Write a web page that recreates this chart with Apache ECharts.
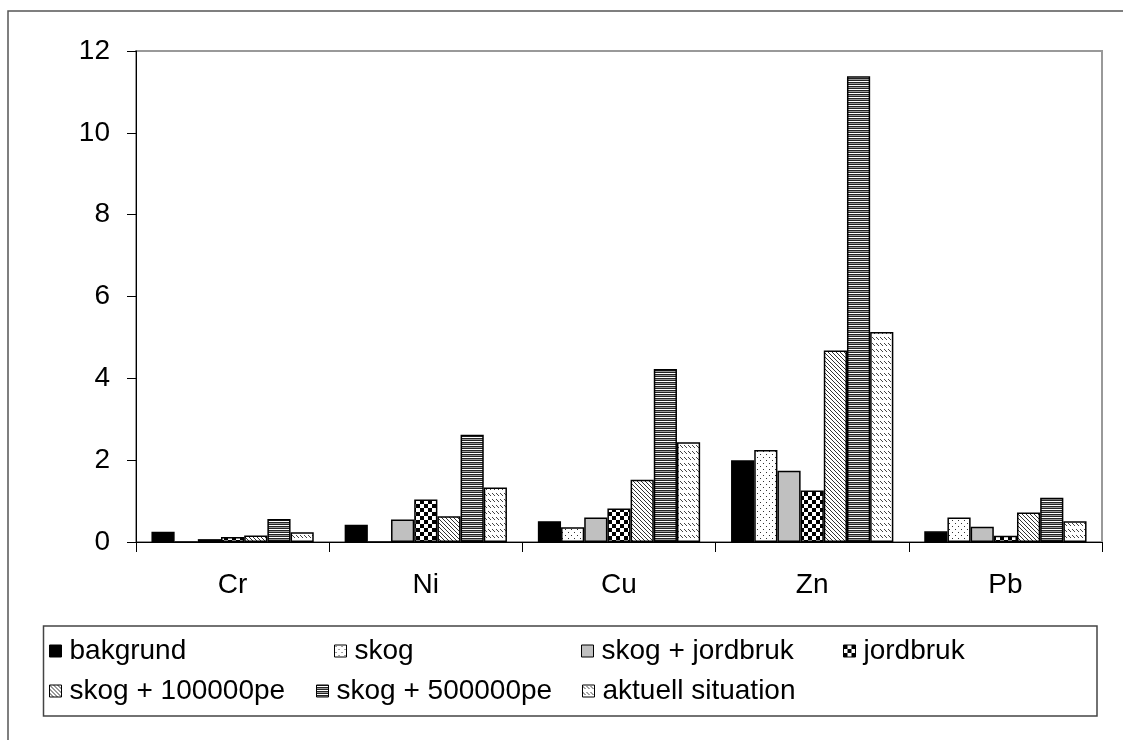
<!DOCTYPE html>
<html>
<head>
<meta charset="utf-8">
<script src="https://cdn.jsdelivr.net/npm/echarts@6/dist/echarts.min.js"></script>
<style>
html,body{margin:0;padding:0;background:#fff;}
#chart{width:1123px;height:740px;}
</style>
</head>
<body>
<div id="chart"></div>
<script>
// ---- data ----
const categories = ['Cr', 'Ni', 'Cu', 'Zn', 'Pb'];
const seriesNames = ['bakgrund', 'skog', 'skog + jordbruk', 'jordbruk', 'skog + 100000pe', 'skog + 500000pe', 'aktuell situation'];
const bakgrund = [0.25, 0.42, 0.51, 2.00, 0.26];
const skog = [0, 0, 0.36, 2.25, 0.60];
const skogJordbruk = [0.07, 0.55, 0.60, 1.74, 0.37];
const jordbruk = [0.12, 1.04, 0.82, 1.26, 0.15];
const skog100000pe = [0.16, 0.63, 1.52, 4.68, 0.72];
const skog500000pe = [0.56, 2.62, 4.23, 11.38, 1.08];
const aktuellSituation = [0.24, 1.33, 2.44, 5.13, 0.51];
const yTicks = [0, 2, 4, 6, 8, 10, 12];

// ---- fill patterns ----
function tile(w, h, bg, draw) {
  const c = document.createElement('canvas');
  c.width = w; c.height = h;
  const g = c.getContext('2d');
  g.fillStyle = bg; g.fillRect(0, 0, w, h);
  draw(g);
  return { image: c, repeat: 'repeat' };
}
const fills = [
  '#000000',
  tile(6, 6, '#ffffff', g => { g.fillStyle = '#333'; g.fillRect(1, 1, 1, 1); g.fillRect(4, 4, 1, 1); }),
  '#c0c0c0',
  tile(8, 8, '#ffffff', g => { g.fillStyle = '#000'; g.fillRect(0, 0, 4, 4); g.fillRect(4, 4, 4, 4); }),
  tile(4, 4, '#ffffff', g => { g.fillStyle = '#333'; for (let i = 0; i < 4; i++) g.fillRect(i, i, 1, 1); }),
  tile(4, 4, '#ffffff', g => { g.fillStyle = '#222'; g.fillRect(0, 0, 4, 1); g.fillRect(0, 2, 4, 1); g.fillStyle = '#999'; g.fillRect(0, 3, 4, 1); }),
  tile(4, 6, '#ffffff', g => { g.fillStyle = '#444'; g.fillRect(0, 1, 1, 1); g.fillRect(1, 2, 1, 1); g.fillRect(2, 3, 1, 1); })
];
const seriesData = [bakgrund, skog, skogJordbruk, jordbruk, skog100000pe, skog500000pe, aktuellSituation];

const FONT = "'Liberation Sans', Arial, sans-serif";
const FS = 28;
const chart = echarts.init(document.getElementById('chart'));

const legendPos = [
  [49, 637], [334, 637], [581, 637], [843, 637],
  [49, 677], [316, 677], [582, 677]
];

chart.setOption({
  animation: false,
  backgroundColor: '#ffffff',
  grid: {
    left: 136, top: 51, right: 21, bottom: 198,
    show: true, borderColor: '#999999', borderWidth: 2, backgroundColor: 'transparent'
  },
  xAxis: {
    type: 'category',
    data: categories,
    axisLine: { lineStyle: { color: '#000', width: 1 } },
    axisTick: { show: true, length: 10, lineStyle: { color: '#000' } },
    axisLabel: { color: '#000', fontSize: FS, fontFamily: FONT, margin: 29 },
    splitLine: { show: false }
  },
  yAxis: {
    type: 'value',
    min: yTicks[0], max: yTicks[yTicks.length - 1], interval: 2,
    axisLine: { show: true, lineStyle: { color: '#000', width: 1 } },
    axisTick: { show: true, length: 9, lineStyle: { color: '#000' } },
    axisLabel: { color: '#000', fontSize: FS, fontFamily: FONT, margin: 26 },
    splitLine: { show: false }
  },
  legend: seriesNames.map((n, i) => ({
    data: [n],
    left: legendPos[i][0], top: legendPos[i][1],
    padding: 0,
    icon: 'rect', itemWidth: 12, itemHeight: 12,
    itemStyle: { borderColor: '#000', borderWidth: 1 },
    textStyle: { color: '#000', fontSize: FS, fontFamily: FONT, padding: [0, 0, 0, 3] },
    selectedMode: false
  })),
  series: seriesNames.map((n, i) => ({
    name: n,
    type: 'bar',
    data: seriesData[i],
    barGap: '0%',
    barCategoryGap: '16%',
    itemStyle: { color: fills[i], borderColor: '#000', borderWidth: 1.5 }
  })),
  graphic: [
    { type: 'rect', shape: { x: 8, y: 11, width: 1200, height: 800 }, style: { fill: 'none', stroke: '#555', lineWidth: 1.5 }, silent: true },
    { type: 'rect', shape: { x: 43.5, y: 626, width: 1053.5, height: 90 }, style: { fill: 'none', stroke: '#444', lineWidth: 1.5 }, silent: true }
  ]
});
</script>
</body>
</html>
